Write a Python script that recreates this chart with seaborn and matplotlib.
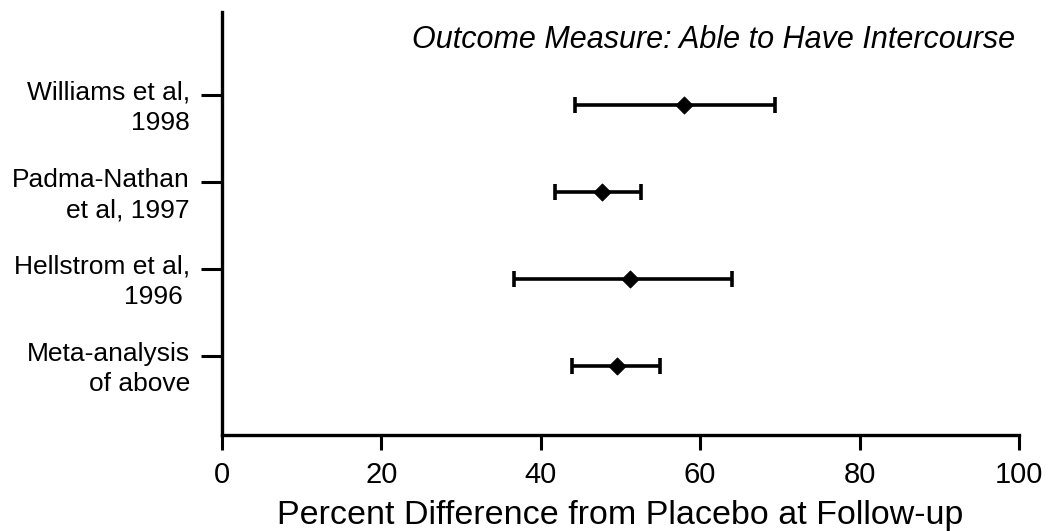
import numpy as np
import pandas as pd
import seaborn as sns
import matplotlib
matplotlib.use('Agg')
import matplotlib.pyplot as plt
from matplotlib.transforms import ScaledTranslation

# forest plot data
studies = ['Williams et al,\n1998', 'Padma-Nathan\net al, 1997',
           'Hellstrom et al,\n1996 ', 'Meta-analysis\nof above']
point_est = [58.0, 47.7, 51.2, 49.6]
ci_low = [44.3, 41.8, 36.6, 43.9]
ci_high = [69.4, 52.6, 64.0, 55.0]

df = pd.DataFrame({'study': studies, 'est': point_est,
                   'low': ci_low, 'high': ci_high})
df['row'] = np.arange(len(df))[::-1] + 1

sns.set_theme(style='white')
plt.rcParams['font.family'] = ['Liberation Sans', 'DejaVu Sans']

fig = plt.figure(figsize=(10.53, 5.31), dpi=100)
ax = fig.add_axes([0.2108, 0.1808, 0.7569, 0.7966])

# confidence intervals
ax.errorbar(df['est'], df['row'],
            xerr=[df['est'] - df['low'], df['high'] - df['est']],
            fmt='none', ecolor='black', elinewidth=2.6, capsize=5.5, capthick=2.6)
# point estimates
sns.scatterplot(data=df, x='est', y='row', marker='D', color='black',
                s=75, edgecolor='black', zorder=3, ax=ax)

ax.set_xlim(0, 100)
ax.set_ylim(0.21, 5.07)
ax.set_xticks([0, 20, 40, 60, 80, 100])
ax.tick_params(axis='x', labelsize=21, length=11, width=2.2, direction='out',
               pad=8, colors='black', bottom=True)
ax.set_yticks(df['row'] + 0.115)
ax.set_yticklabels(df['study'], fontsize=19, ha='right', multialignment='right',
                   linespacing=1.35)
ax.tick_params(axis='y', length=15, width=2.2, direction='out', pad=8,
               colors='black', left=True)
shift = ScaledTranslation(0, -0.07, fig.dpi_scale_trans)
for lab in ax.get_yticklabels():
    lab.set_transform(lab.get_transform() + shift)

ax.set_xlabel('Percent Difference from Placebo at Follow-up', fontsize=24.5,
              labelpad=8, color='black')
ax.set_ylabel('')

for side in ['top', 'right']:
    ax.spines[side].set_visible(False)
for side in ['left', 'bottom']:
    ax.spines[side].set_color('black')
    ax.spines[side].set_linewidth(2.4)

ax.text(0.995, 0.934, 'Outcome Measure: Able to Have Intercourse',
        transform=ax.transAxes, ha='right', va='center', fontsize=22,
        style='italic', color='black')

fig.savefig('out.png', dpi=100)
